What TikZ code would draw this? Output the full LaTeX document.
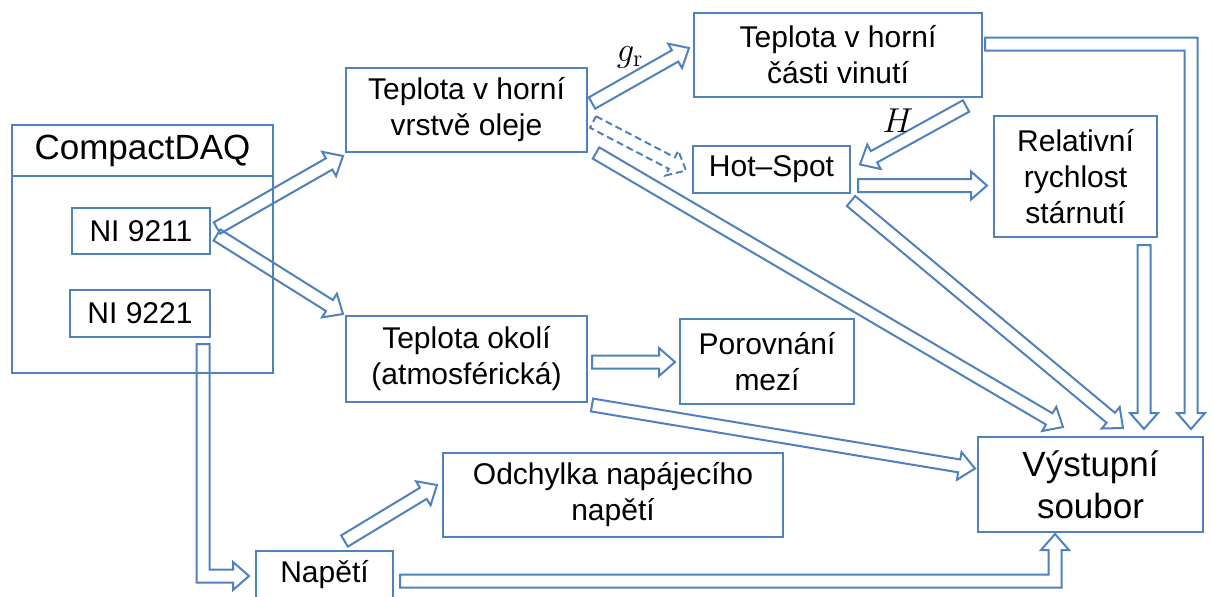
\documentclass[tikz,border=0pt]{standalone}
\usepackage[no-math]{fontspec}
\setmainfont{Liberation Sans}
\usepackage{xcolor}
\usepackage{tikz}
\usetikzlibrary{positioning, calc}
\definecolor{frameblue}{HTML}{4F81BD}

\tikzset{
  box/.style={draw=frameblue, line width=1.1pt, inner sep=0pt, outer sep=0pt,
    align=center, font=\fontsize{15}{18}\selectfont},
  bigbox/.style={box, font=\fontsize{17.5}{21}\selectfont},
  flow/.style={draw=frameblue, line width=1pt, line join=miter},
  flowdash/.style={flow, dash pattern=on 3.5pt off 2pt}
}

\def\arrshaft{3.25pt}
\def\arrhead{7pt}
\def\arrlen{8pt}

% straight block arrow from #2 to #3
\newcommand{\blockarrow}[3][]{%
  \coordinate (bahead) at ($(#3)!\arrlen!(#2)$);
  \draw[flow,#1] ($(#2)!\arrshaft!90:(#3)$) -- ($(bahead)!\arrshaft!90:(#3)$)
    -- ($(bahead)!\arrhead!90:(#3)$) -- (#3) -- ($(bahead)!\arrhead!-90:(#3)$)
    -- ($(bahead)!\arrshaft!-90:(#3)$) -- ($(#2)!\arrshaft!-90:(#3)$) -- cycle;
}
% bent block arrows
\newcommand{\elbowdownright}[2]{%
  \draw[flow] ($(#1)+(-\elsw,0)$) |- ($(#2)+(-\elhl,\elsw)$) -- ++(0,\elhw-\elsw) -- (#2)
    -- ($(#2)+(-\elhl,-\elhw)$) -- ++(0,\elhw-\elsw) -| ($(#1)+(\elsw,0)$) -- cycle;
}
\newcommand{\elbowrightdown}[2]{%
  \draw[flow] ($(#1)+(0,-\elsw)$) -| ($(#2)+(\elsw,-\elhl)$) -- ++(\elhw-\elsw,0) -- (#2)
    -- ($(#2)+(-\elhw,-\elhl)$) -- ++(\elhw-\elsw,0) |- ($(#1)+(0,\elsw)$) -- cycle;
}
\newcommand{\elbowrightup}[2]{%
  \draw[flow] ($(#1)+(0,\elsw)$) -| ($(#2)+(\elsw,\elhl)$) -- ++(\elhw-\elsw,0) -- (#2)
    -- ($(#2)+(-\elhw,\elhl)$) -- ++(\elhw-\elsw,0) |- ($(#1)+(0,-\elsw)$) -- cycle;
}

\begin{document}
\begin{tikzpicture}[x=0.5pt, y=-0.5pt]
  \pgfmathsetmacro{\elsw}{6.5}
  \pgfmathsetmacro{\elhw}{14}
  \pgfmathsetmacro{\elhl}{16}
  \clip (0,0) rectangle (1213,596);

  % boxes
  \node[bigbox, minimum width=130.5pt, minimum height=25.5pt] (daq) at (142.5,150.5) {CompactDAQ};
  \node[box, minimum width=130.5pt, minimum height=98.5pt, below=0pt of daq] (daqbody) {};
  \node[box, minimum width=69pt, minimum height=23pt] (ni1) at (141,231) {NI 9211};
  \node[box, minimum width=70pt, minimum height=23.5pt] (ni2) at (140,313.5) {NI 9221};

  \node[box, minimum width=120.5pt, minimum height=42pt] (olej) at (466.5,110) {Teplota v horní\\vrstvě oleje};
  \node[box, minimum width=144pt, minimum height=42pt] (vinuti) at (838,55) {Teplota v horní\\části vinutí};
  \node[box, minimum width=78.5pt, minimum height=23.5pt] (hotspot) at (771.5,169.5) {Hot–Spot};
  \node[box, minimum width=81.5pt, minimum height=60.5pt] (starnuti) at (1075.5,176.5) {Relativní\\rychlost\\stárnutí};
  \node[box, minimum width=120.5pt, minimum height=43pt] (okoli) at (466.5,359) {Teplota okolí\\(atmosférická)};
  \node[box, minimum width=87pt, minimum height=42.5pt] (meze) at (767,361.5) {Porovnání\\mezí};
  \node[box, minimum width=170pt, minimum height=42pt] (odchylka) at (613,495) {Odchylka napájecího\\napětí};
  \node[bigbox, minimum width=112.5pt, minimum height=47.5pt] (vystup) at (1090.5,484.5) {Výstupní\\soubor};
  \node[box, minimum width=68.5pt, minimum height=23.5pt] (napeti) at (324.5,574.5) {Napětí};

  % arrow ends
  \coordinate (ni1-up) at ($(ni1.east)+(7,-3)$);
  \coordinate (olej-in) at ($(olej.south west)+(-3,4)$);
  \coordinate (ni1-down) at ($(ni1.east)+(7,4)$);
  \coordinate (okoli-in) at ($(okoli.north west)+(-3,-2)$);
  \coordinate (olej-gr) at ($(olej.east)+(5,-7)$);
  \coordinate (vinuti-in) at ($(vinuti.west)+(-5,-7)$);
  \coordinate (olej-hs) at ($(olej.east)+(6,12)$);
  \coordinate (hotspot-in) at ($(hotspot.west)+(-7,1)$);
  \coordinate (olej-out) at ($(olej.south east)+(9,1)$);
  \coordinate (vystup-in1) at ($(vystup.north west)+(85,-10)$);
  \coordinate (vinuti-h) at ($(vinuti.south east)+(-16,9)$);
  \coordinate (hotspot-h) at ($(hotspot.east)+(10,-5)$);
  \coordinate (hotspot-r) at ($(hotspot.east)+(8,16)$);
  \coordinate (starnuti-in) at ($(starnuti.west)+(-7,9)$);
  \coordinate (hotspot-out) at ($(hotspot.south east)+(1,8)$);
  \coordinate (vystup-in2) at ($(vystup.north west)+(145,-9)$);
  \coordinate (starnuti-out) at ($(starnuti.south east)+(-13,8)$);
  \coordinate (vystup-in3) at ($(vystup.north east)+(-59,-8)$);
  \coordinate (vinuti-out) at ($(vinuti.east)+(3,-11)$);
  \coordinate (vystup-in4) at ($(vystup.north east)+(-12,-8)$);
  \coordinate (okoli-r) at ($(okoli.east)+(5,3)$);
  \coordinate (meze-in) at ($(meze.west)+(-5,0.5)$);
  \coordinate (okoli-out) at ($(okoli.south east)+(5,3)$);
  \coordinate (vystup-in5) at ($(vystup.west)+(-3,-16)$);
  \coordinate (ni2-out) at ($(ni2.south east)+(-7,7)$);
  \coordinate (napeti-in) at ($(napeti.west)+(-7,1.5)$);
  \coordinate (napeti-up) at ($(napeti.north)+(20,-10)$);
  \coordinate (odchylka-in) at ($(odchylka.west)+(-6,-10)$);
  \coordinate (napeti-out) at ($(napeti.east)+(7,6.5)$);
  \coordinate (vystup-in6) at ($(vystup.south)+(-35.5,2)$);

  % arrows
  \blockarrow{ni1-up}{olej-in}
  \blockarrow{ni1-down}{okoli-in}
  \blockarrow{olej-gr}{vinuti-in}
  \blockarrow[flowdash]{olej-hs}{hotspot-in}
  \blockarrow{olej-out}{vystup-in1}
  \blockarrow{vinuti-h}{hotspot-h}
  \blockarrow{hotspot-r}{starnuti-in}
  \blockarrow{hotspot-out}{vystup-in2}
  \blockarrow{starnuti-out}{vystup-in3}
  \blockarrow{okoli-r}{meze-in}
  \blockarrow{okoli-out}{vystup-in5}
  \blockarrow{napeti-up}{odchylka-in}
  \elbowrightdown{vinuti-out}{vystup-in4}
  \elbowdownright{ni2-out}{napeti-in}
  \elbowrightup{napeti-out}{vystup-in6}

  % labels
  \node[font=\fontsize{17}{20}\selectfont] (grlabel) at (630,57) {$g_{\mathrm{r}}$};
  \node[font=\fontsize{16}{19}\selectfont] (hlabel) at (898,121) {$H$};
\end{tikzpicture}
\end{document}
